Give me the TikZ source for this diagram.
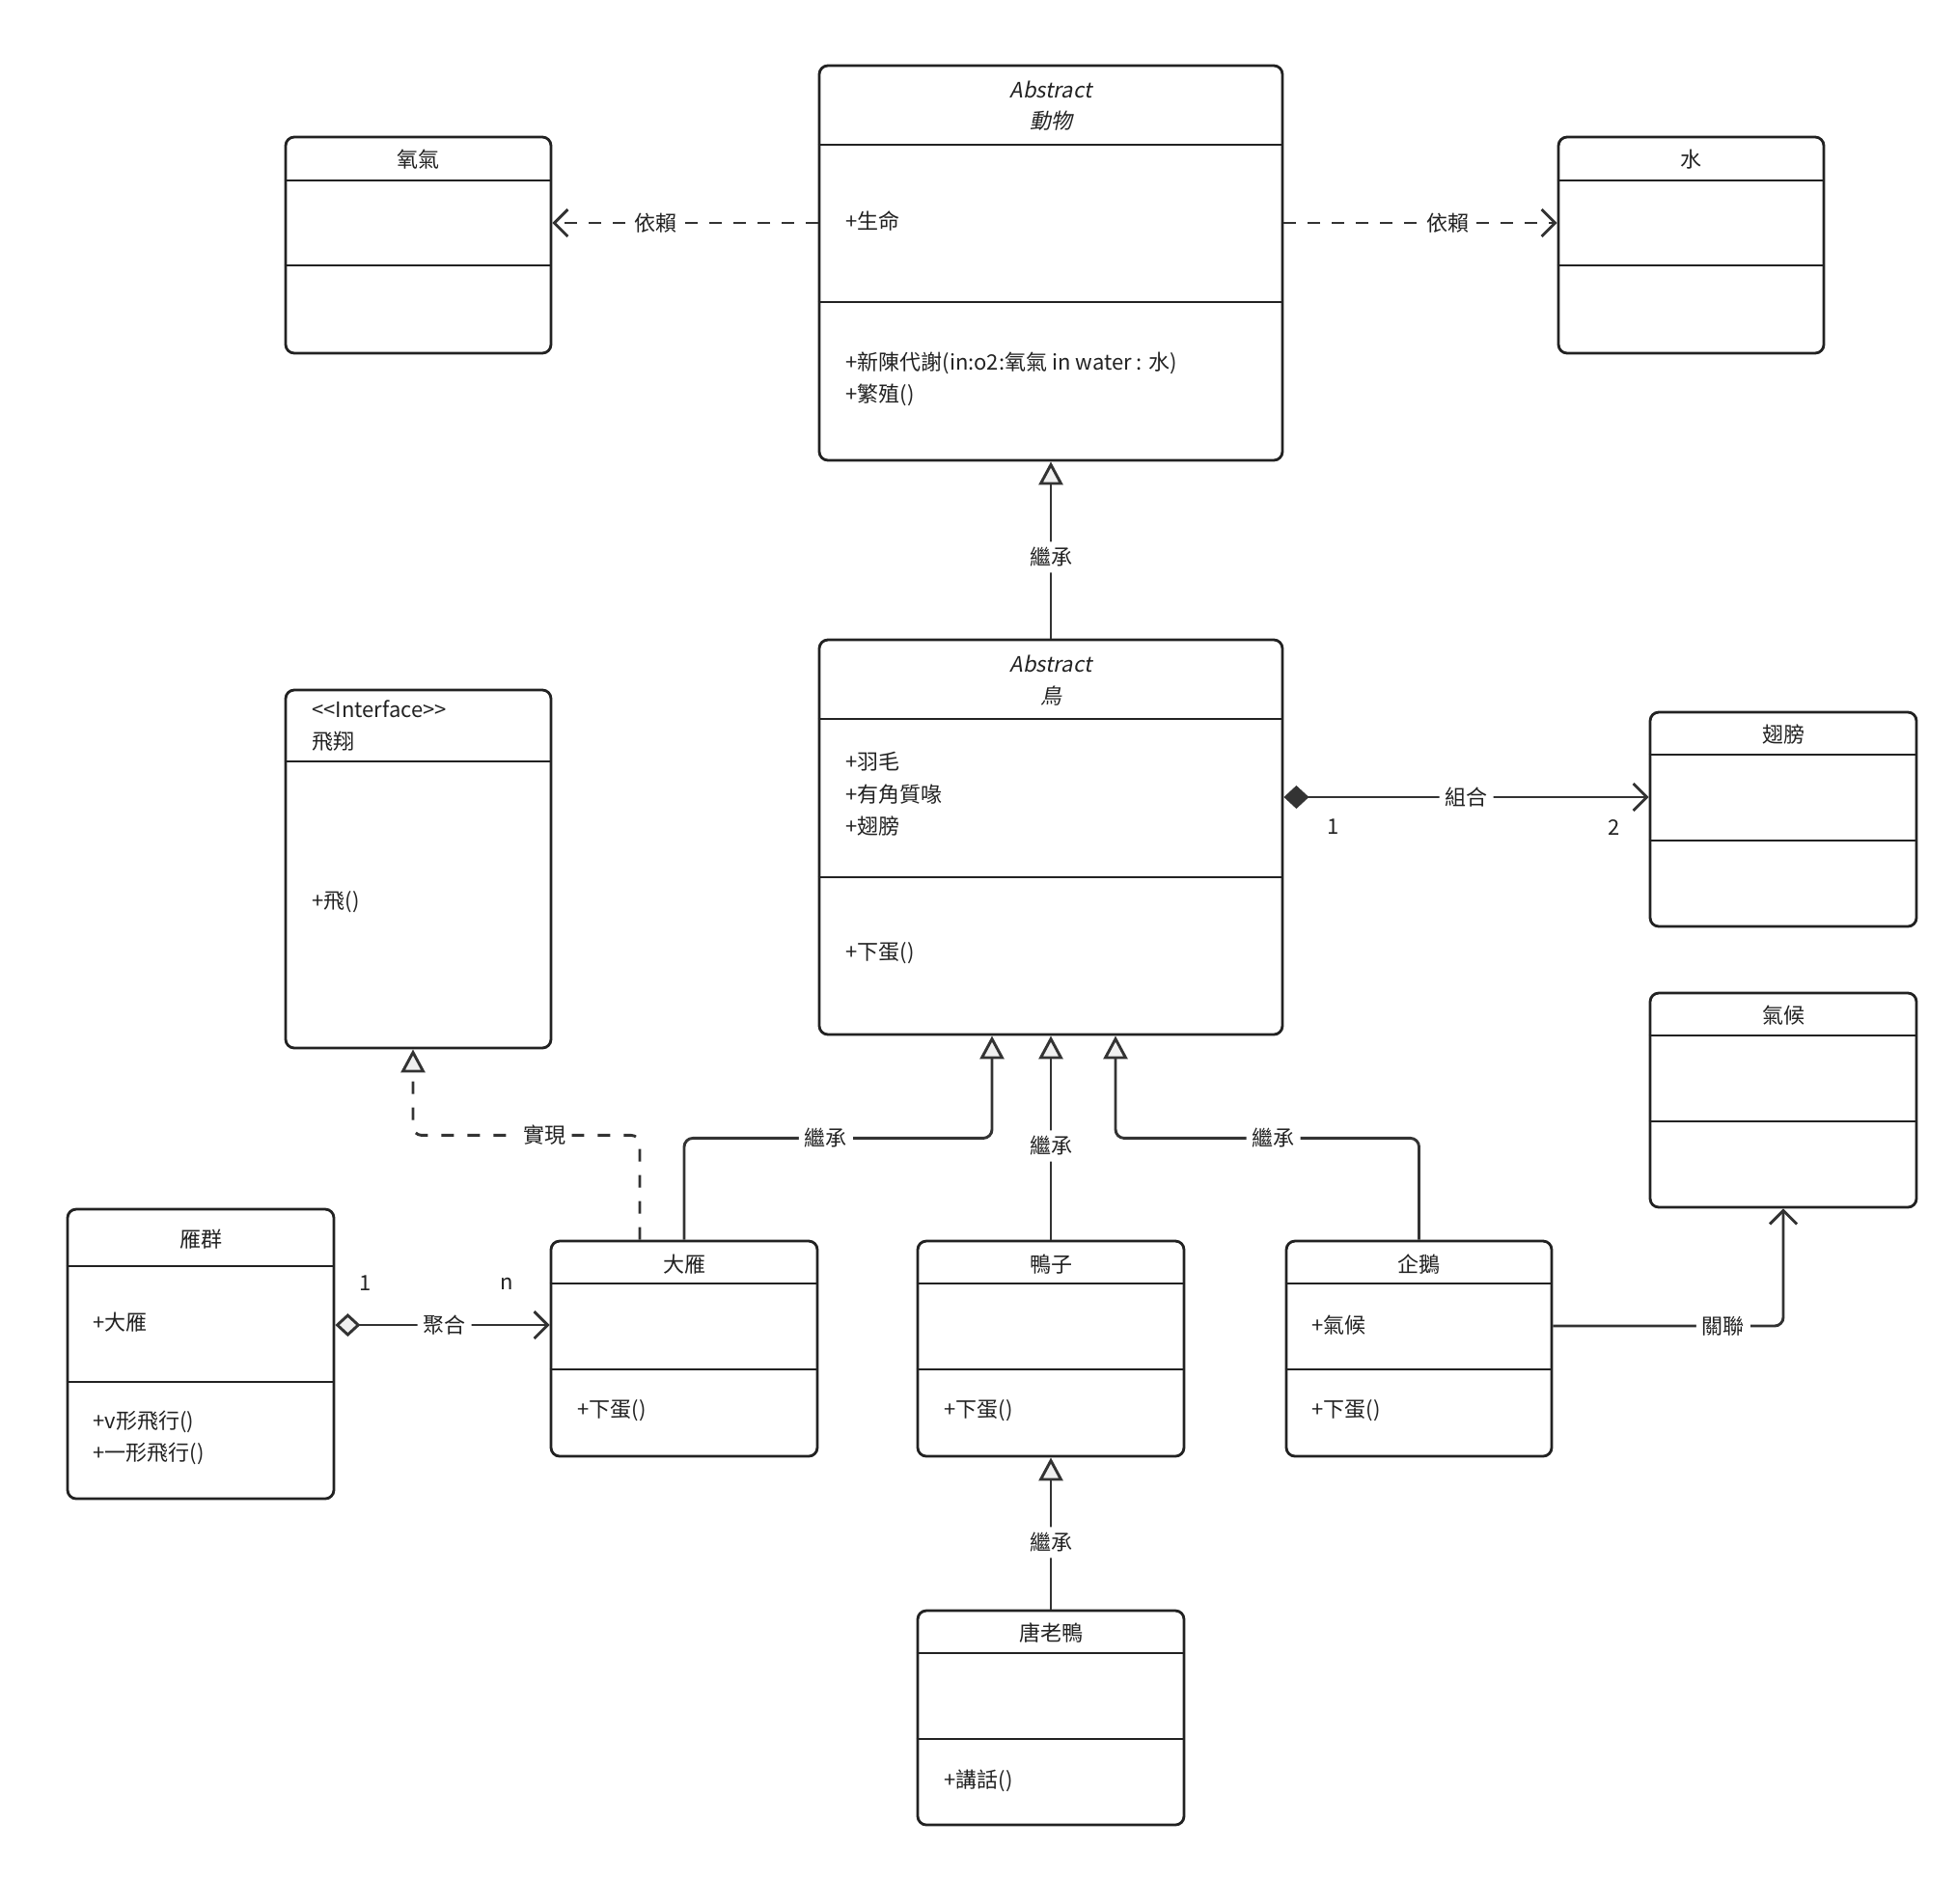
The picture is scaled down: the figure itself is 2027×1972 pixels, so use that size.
\documentclass[tikz,border=0pt]{standalone}
\usepackage{fontspec}
\setmainfont{Noto Sans CJK TC}
\newfontfamily\slantcjk{Noto Sans CJK TC}[FakeSlant=0.2]
\usetikzlibrary{arrows.meta,fit}
\definecolor{ink}{HTML}{222222}
\definecolor{wire}{HTML}{333333}
\definecolor{tipfill}{HTML}{F0F0F0}
\begin{document}
\begin{tikzpicture}[
        x=0.5pt, y=-0.5pt,
        every node/.style={font=\fontsize{11pt}{16.8pt}\selectfont, text=ink, inner sep=1pt},
        cls/.style={draw=ink, line width=1.4pt, rounded corners=4.5pt, inner sep=0pt},
        sep/.style={draw=ink, line width=1.4pt},
        attr/.style={anchor=west, align=left},
        lbl/.style={fill=white, inner sep=3pt},
        link/.style={draw=wire, line width=1.45pt, rounded corners=4.5pt},
        dep/.style={link, dash pattern=on 6.5pt off 6pt, -{Straight Barb[length=7pt, width=14pt]}},
        inh/.style={link, -{Triangle[fill=tipfill, length=12pt, width=12.5pt]}},
        real/.style={inh, dash pattern=on 6.5pt off 7pt},
        comp/.style={link, {Diamond[length=13pt, width=12pt]}-{Straight Barb[length=7pt, width=14pt]}},
        agg/.style={link, {Diamond[fill=tipfill, length=13pt, width=12pt]}-{Straight Barb[length=7pt, width=14pt]}},
        assoc/.style={link, -{Straight Barb[length=7pt, width=14pt]}}
    ]
    \useasboundingbox[fill=white] (0,0) rectangle (2027,1972);

    \node[cls, fit={(849,68) (1329,477)}] (animal) {};
    \draw[sep] (animal.west |- 0,150) -- (animal.east |- 0,150);
    \draw[sep] (animal.west |- 0,313) -- (animal.east |- 0,313);
    \node (animalA) at (1089,93) {\slantcjk Abstract};
    \node (animalT) at (1089,125) {\slantcjk 動物};
    \node[attr] (animalP) at (874,229) {+生命};
    \node[attr] (animalM) at (874,393) {+新陳代謝(in:o2:氧氣 in water : 水)\\+繁殖()};

    \node[cls, fit={(296,142) (571,366)}] (oxygen) {};
    \draw[sep] (oxygen.west |- 0,187) -- (oxygen.east |- 0,187);
    \draw[sep] (oxygen.west |- 0,275) -- (oxygen.east |- 0,275);
    \node (oxygenT) at (433.5,165) {氧氣};

    \node[cls, fit={(1615,142) (1890,366)}] (water) {};
    \draw[sep] (water.west |- 0,187) -- (water.east |- 0,187);
    \draw[sep] (water.west |- 0,275) -- (water.east |- 0,275);
    \node (waterT) at (1752.5,165) {水};

    \node[cls, fit={(849,663) (1329,1072)}] (bird) {};
    \draw[sep] (bird.west |- 0,745) -- (bird.east |- 0,745);
    \draw[sep] (bird.west |- 0,909) -- (bird.east |- 0,909);
    \node (birdA) at (1089,688) {\slantcjk Abstract};
    \node (birdT) at (1089,721) {\slantcjk 鳥};
    \node[attr] (birdP) at (874,823) {+羽毛\\+有角質喙\\+翅膀};
    \node[attr] (birdM) at (874,988) {+下蛋()};

    \node[cls, fit={(296,715) (571,1086)}] (fly) {};
    \draw[sep] (fly.west |- 0,789) -- (fly.east |- 0,789);
    \node[attr] (flyT) at (321,752) {<{}<Interface>{}>\\飛翔};
    \node[attr] (flyM) at (321,935) {+飛()};

    \node[cls, fit={(1710,738) (1986,960)}] (wing) {};
    \draw[sep] (wing.west |- 0,782) -- (wing.east |- 0,782);
    \draw[sep] (wing.west |- 0,871) -- (wing.east |- 0,871);
    \node (wingT) at (1848,761) {翅膀};

    \node[cls, fit={(1710,1029) (1986,1251)}] (climate) {};
    \draw[sep] (climate.west |- 0,1073) -- (climate.east |- 0,1073);
    \draw[sep] (climate.west |- 0,1162) -- (climate.east |- 0,1162);
    \node (climateT) at (1848,1052) {氣候};

    \node[cls, fit={(70,1253) (346,1553)}] (flock) {};
    \draw[sep] (flock.west |- 0,1312) -- (flock.east |- 0,1312);
    \draw[sep] (flock.west |- 0,1432) -- (flock.east |- 0,1432);
    \node (flockT) at (208,1284) {雁群};
    \node[attr] (flockP) at (94,1370) {+大雁};
    \node[attr] (flockM) at (94,1490) {+v形飛行()\\+一形飛行()};

    \node[cls, fit={(571,1286) (847,1509)}] (goose) {};
    \draw[sep] (goose.west |- 0,1330) -- (goose.east |- 0,1330);
    \draw[sep] (goose.west |- 0,1419) -- (goose.east |- 0,1419);
    \node (gooseT) at (709,1310) {大雁};
    \node[attr] (gooseM) at (596,1462) {+下蛋()};

    \node[cls, fit={(951,1286) (1227,1509)}] (duck) {};
    \draw[sep] (duck.west |- 0,1330) -- (duck.east |- 0,1330);
    \draw[sep] (duck.west |- 0,1419) -- (duck.east |- 0,1419);
    \node (duckT) at (1089,1310) {鴨子};
    \node[attr] (duckM) at (976,1462) {+下蛋()};

    \node[cls, fit={(1333,1286) (1608,1509)}] (penguin) {};
    \draw[sep] (penguin.west |- 0,1330) -- (penguin.east |- 0,1330);
    \draw[sep] (penguin.west |- 0,1419) -- (penguin.east |- 0,1419);
    \node (penguinT) at (1470.5,1310) {企鵝};
    \node[attr] (penguinP) at (1357,1373) {+氣候};
    \node[attr] (penguinM) at (1357,1462) {+下蛋()};

    \node[cls, fit={(951,1669) (1227,1891)}] (donald) {};
    \draw[sep] (donald.west |- 0,1713) -- (donald.east |- 0,1713);
    \draw[sep] (donald.west |- 0,1802) -- (donald.east |- 0,1802);
    \node (donaldT) at (1089,1692) {唐老鴨};
    \node[attr] (donaldM) at (976,1845) {+講話()};

    \coordinate (depY) at (0,231);
    \coordinate (compY) at (0,826);
    \coordinate (aggY) at (0,1373);
    \coordinate (assocY) at (0,1374);

    \draw[dep] (animal.west |- depY) -- node[lbl, pos=0.61] {依賴} (oxygen.east |- depY);
    \draw[dep] (animal.east |- depY) -- node[lbl, pos=0.6] {依賴} (water.west |- depY);
    \draw[inh] (bird.north) -- node[lbl, pos=0.46] {繼承} (animal.south);
    \draw[comp] (bird.east |- compY) -- node[lbl] {組合} (wing.west |- compY);
    \node (compA) at (1382,857) {1};
    \node (compB) at (1673,857) {2};
    \draw[inh] (goose.north) |- node[lbl, pos=0.73] {繼承} ([xshift=-30.5pt, yshift=-53pt]bird.south) -- ([xshift=-30.5pt]bird.south);
    \draw[inh] (duck.north) -- node[lbl, pos=0.46] {繼承} (bird.south);
    \draw[inh] (penguin.north) |- node[lbl, pos=0.74] {繼承} ([xshift=33.5pt, yshift=-53pt]bird.south) -- ([xshift=33.5pt]bird.south);
    \draw[real] ([xshift=-23pt]goose.north) |- node[lbl, pos=0.71] {實現} ([xshift=-2.75pt, yshift=-44.5pt]fly.south) -- ([xshift=-2.75pt]fly.south);
    \draw[agg] (flock.east |- aggY) -- node[lbl, pos=0.51] {聚合} (goose.west |- aggY);
    \node (aggA) at (379,1330) {1};
    \node (aggB) at (525,1330) {n};
    \draw[inh] (donald.north) -- node[lbl, pos=0.44] {繼承} (duck.south);
    \draw[assoc] (penguin.east |- assocY) -| node[lbl, pos=0.37] {關聯} (climate.south);
\end{tikzpicture}
\end{document}
